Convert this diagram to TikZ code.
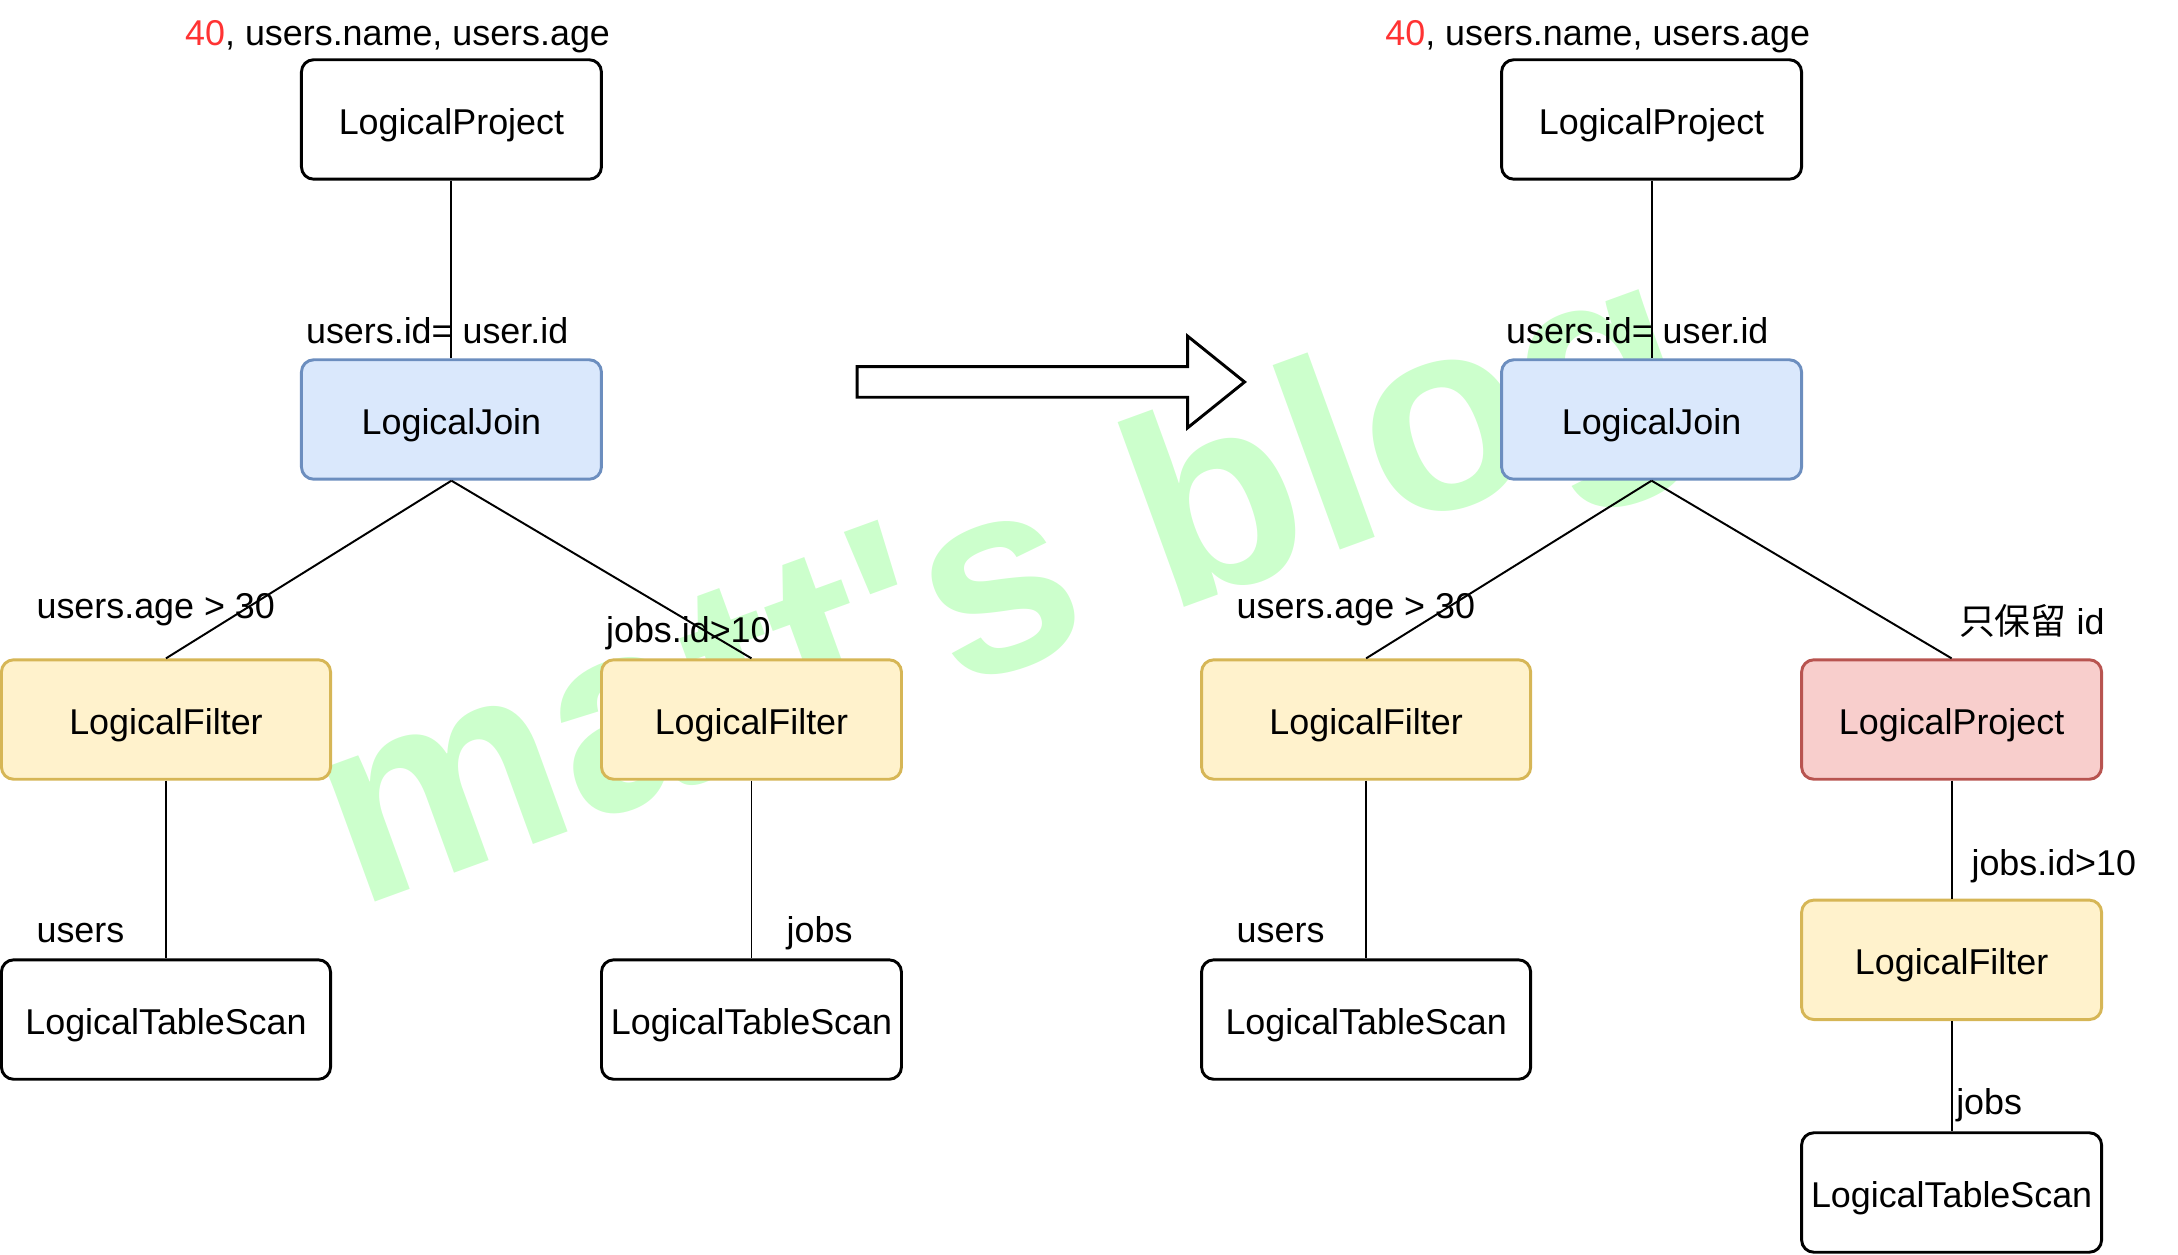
\documentclass[tikz,border=0pt]{standalone}
\usepackage{fontspec}
\setmainfont{Liberation Sans}
\newfontfamily\cjk{Noto Sans CJK SC}

\definecolor{bluefill}{HTML}{DAE8FC}
\definecolor{bluedraw}{HTML}{6C8EBF}
\definecolor{yellowfill}{HTML}{FFF2CC}
\definecolor{yellowdraw}{HTML}{D6B656}
\definecolor{redfill}{HTML}{F8CECC}
\definecolor{reddraw}{HTML}{B85450}
\definecolor{markgreen}{HTML}{CCFFCC}
\definecolor{numred}{HTML}{FF3333}

\tikzset{
  op/.style={draw, fill=white, rounded corners=5pt, line width=1.2pt, minimum width=4.32cm, minimum height=1.72cm, inner sep=0pt, text height=12.4pt, text depth=0pt, font=\fontsize{14.7}{17}\selectfont},
  wideop/.style={op, minimum width=4.74cm},
  joinop/.style={op, draw=bluedraw, fill=bluefill},
  filterop/.style={op, draw=yellowdraw, fill=yellowfill},
  projop/.style={op, draw=reddraw, fill=redfill},
  lbl/.style={anchor=base west, inner sep=0pt, font=\fontsize{14.7}{17}\selectfont},
  edge/.style={line width=0.8pt}
}

\begin{document}
\begin{tikzpicture}[x=0.02cm,y=-0.02cm]
\useasboundingbox (0,0) rectangle (1568,903);

% watermark
\path (257,654) node[anchor=base west, rotate=20, inner sep=0pt, text=markgreen, font=\fontsize{111}{111}\selectfont\bfseries] (mark) {matt\textquotesingle s blog};

% left tree
\path (325,86) node[op] (projL) {LogicalProject};
\path (325,302) node[joinop] (joinL) {LogicalJoin};
\path (119.5,518) node[filterop, wideop, draw=yellowdraw, fill=yellowfill] (filterLa) {LogicalFilter};
\path (541,518) node[filterop] (filterLb) {LogicalFilter};
\path (119.5,734) node[wideop] (scanLa) {LogicalTableScan};
\path (541,734) node[op] (scanLb) {LogicalTableScan};
% labels
\path (133,33) node[lbl] (colsL) {\textcolor{numred}{40}, users.name, users.age};
\path (220,247) node[lbl] (condL) {users.id= user.id};
\path (26,445.5) node[lbl] (ageL) {users.age > 30};
\path (436,462.5) node[lbl] (jobidL) {jobs.id>10};
\path (26,678.5) node[lbl] (usersL) {users};
\path (566,678.5) node[lbl] (jobsL) {jobs};
% draw
\draw[edge] (projL) -- (joinL);
\draw[edge] (joinL.south) -- (filterLa.north);
\draw[edge] (joinL.south) -- (filterLb.north);
\draw[edge] (filterLa) -- (scanLa);
\draw[edge] (filterLb) -- (scanLb);

% arrow
\draw[line width=1.2pt, fill=white] (617,264) -- (855,264) -- (855,242) -- (896,275) -- (855,308) -- (855,286) -- (617,286) -- cycle;

% right tree
\path (1189,86) node[op] (projR) {LogicalProject};
\path (1189,302) node[joinop] (joinR) {LogicalJoin};
\path (983.5,518) node[filterop, wideop, draw=yellowdraw, fill=yellowfill] (filterRa) {LogicalFilter};
\path (1405,518) node[projop] (keepR) {LogicalProject};
\path (1405,691) node[filterop] (filterRb) {LogicalFilter};
\path (983.5,734) node[wideop] (scanRa) {LogicalTableScan};
\path (1405,858.5) node[op] (scanRb) {LogicalTableScan};
% labels
\path (997,33) node[lbl] (colsR) {\textcolor{numred}{40}, users.name, users.age};
\path (1084,247) node[lbl] (condR) {users.id= user.id};
\path (890,445.5) node[lbl] (ageR) {users.age > 30};
\path (1410,456.5) node[lbl] (keepidR) {{\cjk 只保留} id};
\path (1419,630) node[lbl] (jobidR) {jobs.id>10};
\path (890,678.5) node[lbl] (usersR) {users};
\path (1408,802.5) node[lbl] (jobsR) {jobs};
% draw
\draw[edge] (projR) -- (joinR);
\draw[edge] (joinR.south) -- (filterRa.north);
\draw[edge] (joinR.south) -- (keepR.north);
\draw[edge] (filterRa) -- (scanRa);
\draw[edge] (keepR) -- (filterRb);
\draw[edge] (filterRb) -- (scanRb);
\end{tikzpicture}
\end{document}
